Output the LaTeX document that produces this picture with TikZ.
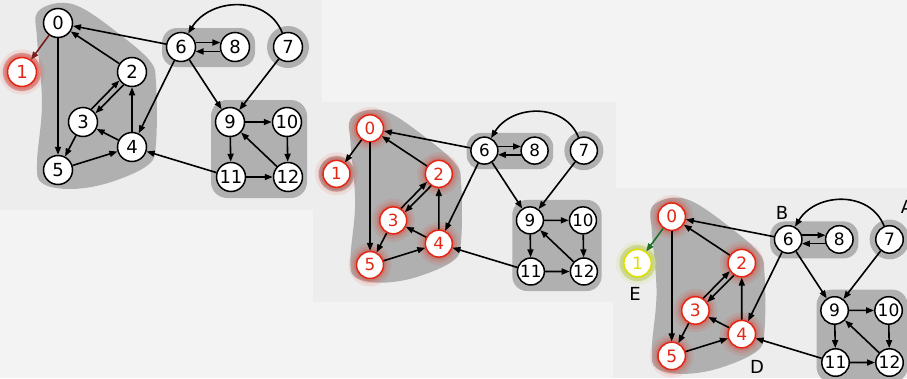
\documentclass[tikz,border=0pt]{standalone}
\usepackage{fontspec}
\setmainfont{DejaVu Sans}
\usetikzlibrary{arrows.meta}
\definecolor{pagebg}{RGB}{243,243,243}
\definecolor{panelbg}{RGB}{237,237,237}
\definecolor{blobgray}{RGB}{176,176,176}
\definecolor{pinkblob}{RGB}{216,172,172}
\definecolor{yelblob}{RGB}{210,215,182}
\definecolor{vred}{RGB}{228,38,20}
\definecolor{vyellow}{RGB}{222,222,0}
\definecolor{yglow}{RGB}{195,215,70}
\definecolor{darkred}{RGB}{120,30,30}
\definecolor{dkgreen}{RGB}{30,110,40}
\tikzset{
  vtx/.style={circle, draw=black, fill=white, line width=1.5pt, minimum size=29pt,
    inner sep=0pt, text=black, font=\fontsize{18}{18}\selectfont},
  redvtx/.style={vtx, draw=vred, text=vred,
    preaction={draw=vred, draw opacity=0.09, line width=16pt},
    preaction={draw=vred, draw opacity=0.13, line width=10pt},
    preaction={draw=vred, draw opacity=0.20, line width=5pt}},
  yelvtx/.style={vtx, draw=vyellow, text=vyellow,
    preaction={draw=yglow, draw opacity=0.12, line width=16pt},
    preaction={draw=yglow, draw opacity=0.16, line width=10pt},
    preaction={draw=yglow, draw opacity=0.22, line width=5pt}},
  edge/.style={line width=1.6pt, draw=black, -{Triangle[length=8pt,width=6pt]}},
  blob/.style={fill=blobgray},
  lab/.style={font=\fontsize{18}{18}\selectfont, text=black, inner sep=0pt},
}
\newcommand{\setplain}{\tikzset{s0/.style={vtx},s1/.style={vtx},s2/.style={vtx},
  s3/.style={vtx},s4/.style={vtx},s5/.style={vtx},s6/.style={vtx},s7/.style={vtx},
  s8/.style={vtx},s9/.style={vtx},s10/.style={vtx},s11/.style={vtx},s12/.style={vtx}}}
% #1 prefix, #2,#3 position of vertex 0, #4 scale
\newcommand{\digraphpanel}[4]{%
\begin{scope}[shift={(#2,#3)}, scale=#4, transform shape]
  \coordinate (#1c0) at (0,0);
  \coordinate (#1c1) at (-36,49);
  \coordinate (#1c2) at (74,49);
  \coordinate (#1c3) at (25,99);
  \coordinate (#1c4) at (74,124);
  \coordinate (#1c5) at (0,147);
  \coordinate (#1c6) at (123,24);
  \coordinate (#1c8) at (177,24);
  \coordinate (#1c7) at (230,24);
  \coordinate (#1c9) at (172,99);
  \coordinate (#1c10) at (229,99);
  \coordinate (#1c11) at (173,154);
  \coordinate (#1c12) at (230,154);
  % strong components
  \fill[blob] plot[smooth cycle, tension=0.6] coordinates {
    (-21,-10) (0,-20) (24,-15) (60,10) (92,38) (98,60) (98,120) (90,142)
    (50,160) (12,166) (-16,160) (-21,140) (-16,80) (-21,15)};
  \fill[blob, rounded corners={15pt*#4}] (104,5) rectangle (197,44);
  \fill[blob, rounded corners={16pt*#4}] (153,77) rectangle (249,175);
  \fill[blob] (#1c7) circle[radius=21];
  \fill[b1] (#1c1) circle[radius=19];
  % vertices
  \foreach \i in {0,...,12} {\node[s\i] (#1n\i) at (#1c\i) {\i};}
  % edges
  \draw[e01] (#1n0) -- (#1n1);
  \draw[edge] (#1n0) -- (#1n5);
  \draw[edge] (#1n2) -- (#1n0);
  \draw[edge] (#1n3.57) -- (#1n2.214);
  \draw[edge] (#1n2.237) -- (#1n3.35);
  \draw[edge] (#1n3) -- (#1n5);
  \draw[edge] (#1n4) -- (#1n3);
  \draw[edge] (#1n4) -- (#1n2);
  \draw[edge] (#1n5) -- (#1n4);
  \draw[edge] (#1n6) -- (#1n0);
  \draw[edge] (#1n6) -- (#1n4);
  \draw[edge] (#1n6.17) -- (#1n8.163);
  \draw[edge] (#1n8.197) -- (#1n6.343);
  \draw[edge] (#1n6) -- (#1n9);
  \draw[edge] (#1n7.112) .. controls +(-15,-38) and +(22,-36) .. (#1n6.62);
  \draw[edge] (#1n7) -- (#1n9);
  \draw[edge] (#1n9) -- (#1n10);
  \draw[edge] (#1n9) -- (#1n11);
  \draw[edge] (#1n10) -- (#1n12);
  \draw[edge] (#1n11) -- (#1n12);
  \draw[edge] (#1n11) -- (#1n4);
  \draw[edge] (#1n12) -- (#1n9);
\end{scope}}
\begin{document}
\begin{tikzpicture}[x=1pt,y=-1pt]
  \useasboundingbox (0,0) rectangle (907,378);
  \clip (0,0) rectangle (907,378);
  \fill[pagebg] (0,0) rectangle (907,378);
  % panel 1
  \fill[panelbg] (0,0) rectangle (322,210);
  \setplain
  \tikzset{s1/.style={redvtx}, e01/.style={edge, draw=darkred}, b1/.style={fill=pinkblob}}
  \digraphpanel{a}{58}{23}{1}
  % panel 2
  \fill[panelbg] (313,102) rectangle (616,302);
  \setplain
  \tikzset{s0/.style={redvtx}, s1/.style={redvtx}, s2/.style={redvtx},
    s3/.style={redvtx}, s4/.style={redvtx}, s5/.style={redvtx},
    e01/.style={edge}, b1/.style={blob}}
  \digraphpanel{b}{370}{128.3}{0.93}
  % panel 3
  \fill[panelbg] (613,188) rectangle (907,378);
  \setplain
  \tikzset{s0/.style={redvtx}, s1/.style={yelvtx}, s2/.style={redvtx},
    s3/.style={redvtx}, s4/.style={redvtx}, s5/.style={redvtx},
    e01/.style={edge, draw=dkgreen}, b1/.style={fill=yelblob}}
  \digraphpanel{c}{671.7}{216.7}{0.947}
  \node[lab] (labB) at (782,213) {B};
  \node[lab] (labE) at (635,294) {E};
  \node[lab] (labD) at (757,367) {D};
  \node[lab] (labA) at (907,207) {A};
\end{tikzpicture}
\end{document}
